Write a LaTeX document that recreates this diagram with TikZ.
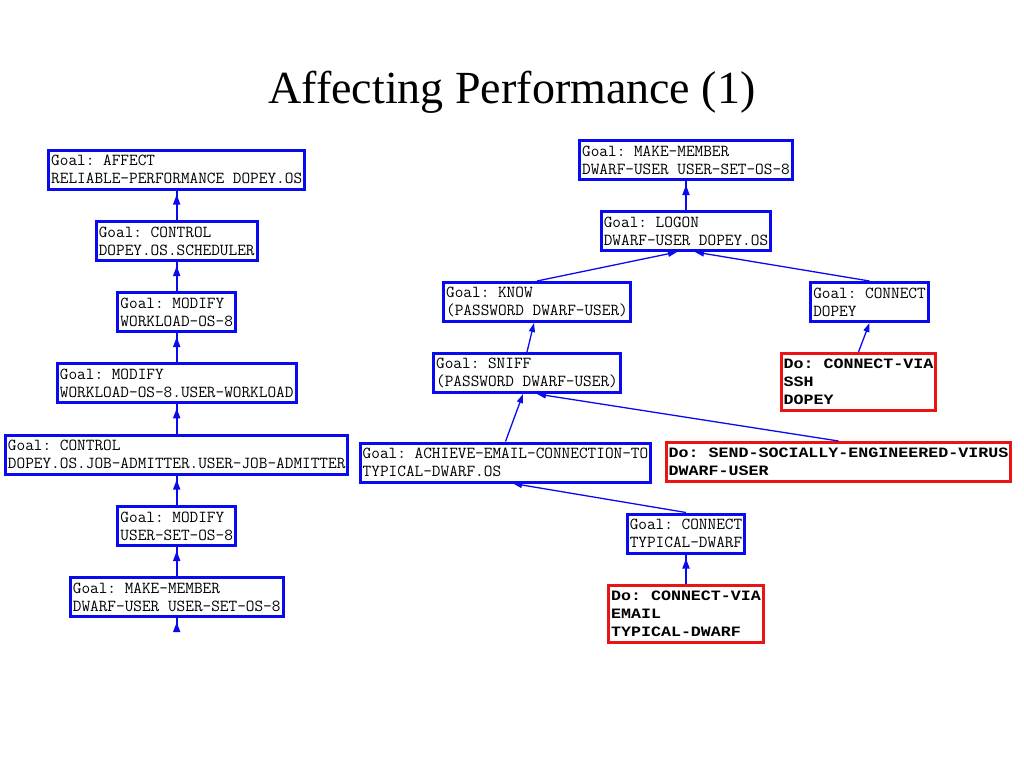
\documentclass[tikz,border=0pt]{standalone}
\usepackage{fontspec}
\setmainfont{Liberation Serif}
\newfontfamily\dofont[FakeStretch=1.165]{Liberation Mono}
\usetikzlibrary{arrows.meta,decorations.markings}
\definecolor{goalblue}{RGB}{10,10,240}
\definecolor{dored}{RGB}{235,20,20}
\tikzset{
  goalbox/.style={draw=goalblue, line width=3pt, align=left, inner xsep=2.5pt,
    minimum height=39pt, font=\ttfamily\frenchspacing\fontsize{16.8}{18}\selectfont},
  dobox/.style={goalbox, draw=dored, font=\dofont\bfseries\frenchspacing\fontsize{14.3}{18}\selectfont},
  dobox3/.style={dobox, minimum height=57pt},
  link/.style={draw=goalblue, line width=1.3pt, -{Triangle[width=6pt,length=9pt]}},
  uplink/.style={draw=goalblue, line width=1.8pt, postaction={decorate},
    decoration={markings, mark=at position -4pt with {\arrow{Triangle[width=7pt,length=10pt]}}}}
}
\newcommand*{\PlanBoxes}[1]{% #1 = list of name/x/y/style/text
  \foreach \id/\x/\y/\kind/\txt in {#1} {
    \node [\kind] (\id) at (\x,\y) {\txt};
  }%
}

\begin{document}
\begin{tikzpicture}[x=1pt,y=-1pt]
    \useasboundingbox (0,0) rectangle (1024,768);

    \node [font=\fontsize{46}{50}\selectfont, anchor=base] (title) at (512,103) {Affecting Performance (1)};

    % left chain
    \PlanBoxes{
        L1/176.7/169.5/goalbox/Goal: AFFECT\\RELIABLE-PERFORMANCE DOPEY.OS,
        L2/176.7/241/goalbox/Goal: CONTROL\\DOPEY.OS.SCHEDULER,
        L3/176.7/312/goalbox/Goal: MODIFY\\WORKLOAD-OS-8,
        L4/176.7/383.3/goalbox/Goal: MODIFY\\WORKLOAD-OS-8.USER-WORKLOAD,
        L5/176.7/454.6/goalbox/Goal: CONTROL\\DOPEY.OS.JOB-ADMITTER.USER-JOB-ADMITTER,
        L6/176.7/526/goalbox/Goal: MODIFY\\USER-SET-OS-8,
        L7/176.7/597.2/goalbox/Goal: MAKE-MEMBER\\DWARF-USER USER-SET-OS-8
    }
    \coordinate (L8) at (176.7,632);
    \foreach \a/\b in {L2/L1,L3/L2,L4/L3,L5/L4,L6/L5,L7/L6,L8/L7}
        \draw [uplink] (\a) -- (\b);

    % right tree
    \PlanBoxes{
        R1/686/160/goalbox/Goal: MAKE-MEMBER\\DWARF-USER USER-SET-OS-8,
        R2/686/231/goalbox/Goal: LOGON\\DWARF-USER DOPEY.OS,
        R3/537/302/goalbox/Goal: KNOW\\(PASSWORD DWARF-USER),
        R4/869.5/302/goalbox/Goal: CONNECT\\DOPEY,
        R5/527/373/goalbox/Goal: SNIFF\\(PASSWORD DWARF-USER),
        R6/858.5/382/dobox3/Do: CONNECT-VIA\\SSH\\DOPEY,
        R7/505.5/462.5/goalbox/Goal: ACHIEVE-EMAIL-CONNECTION-TO\\TYPICAL-DWARF.OS,
        R8/838.5/462/dobox/Do: SEND-SOCIALLY-ENGINEERED-VIRUS\\DWARF-USER,
        R9/686/533.5/goalbox/Goal: CONNECT\\TYPICAL-DWARF,
        R10/686/614/dobox3/Do: CONNECT-VIA\\EMAIL\\TYPICAL-DWARF
    }
    \draw [uplink] (R2) -- (R1);
    \draw [uplink] (R10) -- (R9);
    \draw [link] (R3.north) -- ([xshift=-9pt]R2.south);
    \draw [link] (R4.north) -- ([xshift=9pt]R2.south);
    \draw [link] (R5.north) -- ([xshift=-3pt]R3.south);
    \draw [link] (R6.north) -- (R4.south);
    \draw [link] (R7.north) -- ([xshift=-4pt]R5.south);
    \draw [link] (R8.north) -- ([xshift=10pt]R5.south);
    \draw [link] (R9.north) -- ([xshift=7.5pt]R7.south);
\end{tikzpicture}
\end{document}
